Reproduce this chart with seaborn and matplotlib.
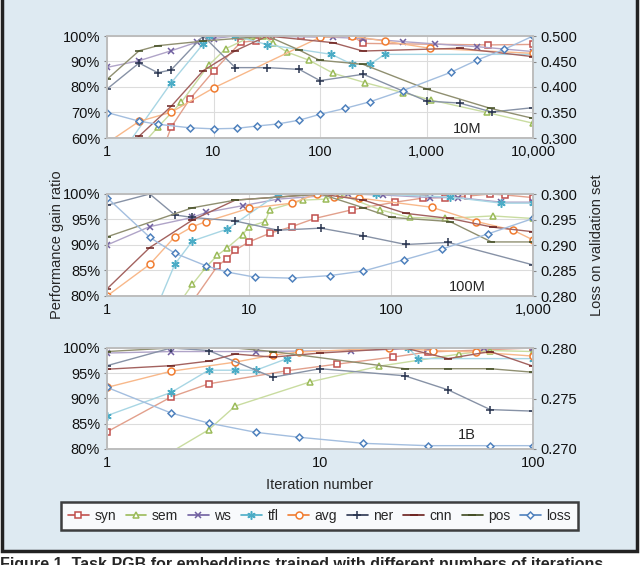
import matplotlib
matplotlib.use("Agg")
import matplotlib.pyplot as plt
from matplotlib.lines import Line2D
from matplotlib.patches import Rectangle
from matplotlib.ticker import FuncFormatter, FixedLocator, NullLocator
import seaborn as sns

sns.set_style("white")
plt.rcParams["font.family"] = ["Liberation Sans", "DejaVu Sans"]

# ---- data: (iterations, value) ----
series_names = ["syn", "sem", "ws", "tfl", "avg", "ner", "cnn", "pos", "loss"]
panel_names = ["10M", "100M", "1B"]

# 10M
syn_10m = [(3, 50), (4, 64.2), (6, 75.3), (10, 86.2), (18, 97.5), (25, 98.2), (35, 99.9), (67, 100),
           (200, 100), (256, 97.1), (3800, 96.5), (10000, 96.7)]
sem_10m = [(2, 56), (3, 64.2), (5, 74.1), (9, 88.5), (13, 95), (23, 99.9), (29, 100), (36, 97.3), (49, 93.7),
           (79, 90.5), (133, 85.4), (265, 81.7), (600, 77.8), (1100, 74.9), (3700, 70), (10000, 65.8)]
ws_10m = [(1, 87.7), (2, 90.3), (4, 94.2), (7, 97.6), (10, 99), (16, 100), (132, 99.5), (253, 99),
          (600, 97.8), (1200, 96.9), (3000, 95.8), (10000, 93.9)]
tfl_10m = [(1, 46), (4, 81.6), (8, 96.9), (9, 100), (16, 100), (32, 96.6), (128, 92.8), (200, 88.9),
           (294, 88.9), (406, 92.8), (10000, 92.8)]
avg_10m = [(1, 58), (2, 66.5), (4, 70.1), (10, 79.6), (100, 99.5), (198, 100), (406, 98), (1070, 95.2),
           (10000, 93.2)]
ner_10m = [(1, 79.2), (2, 89.4), (3, 85.6), (4, 86.7), (8, 100), (16, 87.6), (32, 87.6), (64, 86.9),
           (100, 82.5), (255, 85), (1000, 74.5), (2048, 73.7), (4096, 70.2), (10000, 71.9)]
cnn_10m = [(1, 49), (2, 60.7), (4, 72.4), (8, 86.4), (16, 94.2), (32, 100), (132, 97.4), (253, 94.1),
           (2060, 95.2), (10000, 91.9)]
pos_10m = [(1, 83), (2, 94.2), (3, 96.2), (8, 98), (32, 100), (63, 94.6), (99, 90.5), (253, 88.9),
           (1000, 79.2), (4000, 71.6), (10000, 67.7)]
loss_10m = [(1, 0.350), (2, 0.333), (3, 0.327), (6, 0.320), (10, 0.318), (16.6, 0.319), (25.6, 0.3235),
            (40, 0.3275), (64, 0.335), (100, 0.3465), (171, 0.358), (294, 0.371), (600, 0.393),
            (1700, 0.429), (3000, 0.453), (5400, 0.474), (10000, 0.5)]

# 100M
syn_100m = [(4, 78.9), (6, 85.9), (7, 87.3), (8, 89), (10, 90.6), (14, 92.3), (20, 93.6), (29, 95.2),
            (53, 96.9), (107, 98.4), (168, 99.2), (240, 99.3), (350, 99.6), (500, 100), (640, 99.8),
            (1000, 99.3)]
sem_100m = [(3, 77.3), (4, 82.3), (5, 85.7), (6, 88), (7, 89.4), (9, 92), (10, 93.6), (13, 94.6),
            (14, 96.9), (24, 98.8), (35, 99), (44, 99.9), (84, 96.9), (135, 95.4), (240, 95.2),
            (520, 95.7), (1000, 95.2)]
ws_100m = [(1, 90), (2, 93.6), (4, 95.4), (5, 96.4), (9, 97.7), (16, 99), (50, 100), (88, 99.8),
           (188, 99.3), (298, 99.3), (600, 98.4), (1000, 98.4)]
tfl_100m = [(2, 74.5), (3, 86.2), (4, 90.8), (7, 93.1), (16, 100), (79, 100), (260, 99.4), (600, 98.2),
            (1000, 98.2)]
avg_100m = [(1, 80), (2, 86.2), (3, 91.6), (4, 93.6), (5, 94.6), (10, 97.2), (20, 98.2), (30, 100),
            (40, 99.5), (60, 99.2), (194, 97.4), (400, 94.6), (725, 92.9), (1000, 91)]
ner_100m = [(1, 97.8), (2, 100), (3, 95.9), (4, 95.4), (8, 94.7), (16, 92.9), (32, 93.3), (64, 91.8),
            (127, 90.1), (253, 90.5), (1000, 86.1)]
cnn_100m = [(1, 81.4), (2, 89.5), (4, 94.9), (8, 98.8), (32, 100), (64, 98.8), (127, 96.2), (260, 95.2),
            (520, 93.5), (1000, 92.6)]
pos_100m = [(1, 91.6), (4, 97.3), (8, 98.8), (32, 100), (64, 97.3), (101, 95.4), (260, 94.6),
            (510, 90.6), (1000, 90.6)]
loss_100m = [(1, 0.2993), (2, 0.2915), (3, 0.2884), (5, 0.2859), (7, 0.2847), (11, 0.2837), (20, 0.2835),
             (37, 0.2840), (64, 0.2849), (124, 0.2871), (228, 0.2892), (485, 0.2922), (1000, 0.2952)]

# 1B
syn_1b = [(1, 83.4), (2, 90.3), (3, 92.9), (7, 95.5), (12, 96.8), (22, 98.2), (32, 99.2), (100, 100)]
sem_1b = [(2, 79.4), (3, 83.8), (4, 88.5), (9, 93.3), (19, 96.4), (45, 98.8), (63, 99.5), (100, 99.3)]
ws_1b = [(1, 99), (2, 99.3), (5, 99.3), (14, 99.5), (32, 99.9), (59, 100), (100, 100)]
tfl_1b = [(1, 86.6), (2, 91.2), (3, 95.6), (4, 95.6), (5, 95.6), (7, 97.9), (8, 100), (26, 100),
          (29, 97.9), (100, 97.9)]
avg_1b = [(1, 92.2), (2, 95.4), (4, 97.2), (6, 98.6), (8, 99.2), (21, 100), (34, 99.5), (54, 99.2),
          (100, 98.4)]
ner_1b = [(1, 96.5), (2, 100), (3, 99.5), (6, 94.2), (10, 95.9), (25, 94.5), (40, 91.7), (63, 87.8),
          (100, 87.5)]
cnn_1b = [(1, 95.8), (2, 96.5), (3, 97.4), (4, 98.8), (6, 98.2), (10, 99), (25, 100), (40, 97.9),
          (63, 99.3), (100, 96.4)]
pos_1b = [(1, 99.3), (2, 100), (4, 100), (6, 99.3), (25, 95.9), (40, 95.9), (63, 95.9), (100, 95.2)]
loss_1b = [(1, 0.2761), (2, 0.27356), (3, 0.27257), (5, 0.27165), (8, 0.27116), (16, 0.27056),
           (32, 0.27033), (63, 0.27033), (100, 0.27033)]

panel_data = [
    [syn_10m, sem_10m, ws_10m, tfl_10m, avg_10m, ner_10m, cnn_10m, pos_10m, loss_10m],
    [syn_100m, sem_100m, ws_100m, tfl_100m, avg_100m, ner_100m, cnn_100m, pos_100m, loss_100m],
    [syn_1b, sem_1b, ws_1b, tfl_1b, avg_1b, ner_1b, cnn_1b, pos_1b, loss_1b],
]
x_max = [10000, 1000, 100]
x_ticklabels = [["1", "10", "100", "1,000", "10,000"], ["1", "10", "100", "1,000"], ["1", "10", "100"]]
left_ylim = [(60, 100), (80, 100), (80, 100)]
left_ticks = [[60, 70, 80, 90, 100], [80, 85, 90, 95, 100], [80, 85, 90, 95, 100]]
right_ylim = [(0.300, 0.500), (0.280, 0.300), (0.270, 0.280)]
right_ticks = [[0.30, 0.35, 0.40, 0.45, 0.50], [0.280, 0.285, 0.290, 0.295, 0.300], [0.270, 0.275, 0.280]]

# marker, marker colour, line colour, hollow?, size
styles = {
    "syn": ("s", "#c0504d", "#e2a08c", True, 5),
    "sem": ("^", "#9bbb59", "#c9dca0", True, 5),
    "ws": ("x", "#7060a0", "#b0a4c8", False, 5),
    "tfl": ((6, 2, 0), "#4bacc6", "#a8d6e4", False, 6),
    "avg": ("o", "#f07c30", "#f8b88a", True, 5),
    "ner": ("+", "#2a3550", "#8792a6", False, 6),
    "cnn": ("_", "#6a1f1c", "#a3625f", False, 6),
    "pos": ("_", "#3f4a1f", "#8f8f70", False, 6),
    "loss": ("D", "#4f81bd", "#a3bedf", True, 3.5),
}

W, H = 640, 565
fig = plt.figure(figsize=(W / 100, H / 100), dpi=100, facecolor="white")
fig.add_artist(Rectangle((2 / W, 1 - 551 / H), 635 / W, 1.0, transform=fig.transFigure,
                         facecolor="#deeaf2", edgecolor="#222222", lw=2.5, zorder=-5))

boxes = [(36, 138), (194, 296), (348, 449)]
for i, (top, bot) in enumerate(boxes):
    ax = fig.add_axes([107 / W, 1 - bot / H, 426 / W, (bot - top) / H])
    ax.set_facecolor("white")
    ax2 = ax.twinx()
    for name, pts in zip(series_names, panel_data[i]):
        m, mc, lc, hollow, ms = styles[name]
        target = ax2 if name == "loss" else ax
        sns.lineplot(x=[p[0] for p in pts], y=[p[1] for p in pts], ax=target, color=lc, lw=1.0,
                     marker=m, markersize=ms, markeredgecolor=mc,
                     markerfacecolor="white" if hollow else mc, markeredgewidth=1.1,
                     estimator=None, sort=False, legend=False)
    ax.set_xscale("log")
    ax.set_xlim(1, x_max[i])
    decades = [10 ** k for k in range(len(x_ticklabels[i]))]
    ax.xaxis.set_major_locator(FixedLocator(decades))
    ax.xaxis.set_minor_locator(NullLocator())
    ax.set_xticklabels(x_ticklabels[i])
    ax.set_ylim(*left_ylim[i])
    ax.set_yticks(left_ticks[i])
    ax.yaxis.set_major_formatter(FuncFormatter(lambda v, p: f"{v:.0f}%"))
    ax2.set_ylim(*right_ylim[i])
    ax2.set_yticks(right_ticks[i])
    ax2.yaxis.set_major_formatter(FuncFormatter(lambda v, p: f"{v:.3f}"))
    ax.grid(True, color="#dcdcdc", lw=0.8)
    ax.set_axisbelow(True)
    for a in (ax, ax2):
        a.set_xlabel("")
        a.set_ylabel("")
        for s in a.spines.values():
            s.set_color("#bdbdbd")
            s.set_linewidth(1.2)
        a.tick_params(labelsize=10.5, length=2, color="#888888", pad=3, colors="#111111")
    ax.text(0.845, 0.09 if i < 2 else 0.14, panel_names[i], transform=ax.transAxes,
            ha="center", va="center", fontsize=10.5)

fig.text(57 / W, 1 - 245 / H, "Performance gain ratio", rotation=90, ha="center", va="center", fontsize=10.5)
fig.text(597 / W, 1 - 245 / H, "Loss on validation set", rotation=90, ha="center", va="center", fontsize=10.5)
fig.text(320 / W, 1 - 485 / H, "Iteration number", ha="center", va="center", fontsize=10.5)

handles = []
for name in series_names:
    m, mc, lc, hollow, ms = styles[name]
    handles.append(Line2D([], [], color=mc, lw=1.2, marker=m, markersize=ms, markeredgecolor=mc,
                          markerfacecolor="white" if hollow else mc, markeredgewidth=1.1))
leg = fig.legend(handles, series_names, loc="center", bbox_to_anchor=(319.5 / W, 1 - 516 / H), ncol=9,
                 fontsize=10, frameon=True, fancybox=False, handlelength=1.5, handletextpad=0.4,
                 columnspacing=0.7, borderpad=0.5)
leg.get_frame().set_edgecolor("#111111")
leg.get_frame().set_linewidth(1.8)

fig.text(0.0, 1 - 557 / H, "Figure 1. Task PGB for embeddings trained with different numbers of iterations.",
         ha="left", va="top", fontsize=11.5, weight="bold")

fig.savefig("out.png", dpi=100, facecolor="white")
